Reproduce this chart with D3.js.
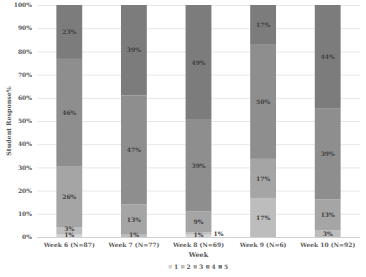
<!DOCTYPE html>
<html>
<head>
<meta charset="utf-8">
<script src="https://cdn.jsdelivr.net/npm/d3@7"></script>
<style>
  body { margin: 0; background: #fff; }
  svg text { font-family: "DejaVu Serif", "Liberation Serif", serif; font-weight: bold; }
</style>
</head>
<body>
<div id="chart"></div>
<script>
const weeks = ["Week 6 (N=87)", "Week 7 (N=77)", "Week 8 (N=69)", "Week 9 (N=6)", "Week 10 (N=92)"];
const keys = ["1", "2", "3", "4", "5"];
const resp1 = [1, 0, 1, 0, 0];
const resp2 = [3, 1, 1, 17, 3];
const resp3 = [26, 13, 9, 17, 13];
const resp4 = [46, 47, 39, 50, 39];
const resp5 = [23, 39, 49, 17, 44];
const yTicks = [0, 10, 20, 30, 40, 50, 60, 70, 80, 90, 100];
const colors = ["#d4d4d4", "#bdbdbd", "#a5a5a5", "#8e8e8e", "#7c7c7c"];

const rows = weeks.map((w, i) => ({
  week: w, "1": resp1[i], "2": resp2[i], "3": resp3[i], "4": resp4[i], "5": resp5[i]
}));

const width = 366, height = 277;
const margin = { top: 5, right: 6, bottom: 40, left: 37 };

const svg = d3.select("#chart").append("svg")
  .attr("width", width)
  .attr("height", height);

const x = d3.scaleBand()
  .domain(weeks)
  .range([margin.left, width - margin.right])
  .paddingInner(0.6)
  .paddingOuter(0.3);

// 100% stacked: values are normalised per bar
const y = d3.scaleLinear()
  .domain([0, 1])
  .range([height - margin.bottom, margin.top]);

// gridlines
svg.append("g")
  .selectAll("line")
  .data(yTicks)
  .enter()
  .append("line")
  .attr("x1", margin.left)
  .attr("x2", width - margin.right)
  .attr("y1", d => y(d / 100) + 0.5)
  .attr("y2", d => y(d / 100) + 0.5)
  .attr("stroke", d => d === 0 ? "#d0d0d0" : "#e8e8e8")
  .attr("stroke-width", 1);

// y tick labels
svg.append("g")
  .selectAll("text")
  .data(yTicks)
  .enter()
  .append("text")
  .attr("x", margin.left - 5)
  .attr("y", d => y(d / 100))
  .attr("dy", "0.35em")
  .attr("text-anchor", "end")
  .attr("font-size", 6)
  .attr("fill", "#595959")
  .text(d => d + "%");

const series = d3.stack().keys(keys).offset(d3.stackOffsetExpand)(rows);

const layers = svg.append("g")
  .selectAll("g")
  .data(series)
  .enter()
  .append("g")
  .attr("fill", (d, i) => colors[i]);

layers.selectAll("rect")
  .data(d => d)
  .enter()
  .append("rect")
  .attr("x", d => x(d.data.week))
  .attr("width", x.bandwidth())
  .attr("y", d => y(d[1]))
  .attr("height", d => y(d[0]) - y(d[1]));

// value labels
const labels = [];
series.forEach((s, si) => {
  s.forEach((d, wi) => {
    const v = d.data[s.key];
    if (v <= 0) return;
    const prevV = si > 0 ? rows[wi][keys[si - 1]] : 0;
    const shiftRight = v < 2 && prevV > 0 && prevV < 2;
    const low = d[0] === 0 && v < 2;
    let py = low ? y(0) - 2.5 : y((d[0] + d[1]) / 2);
    if (!low && !shiftRight && prevV > 0 && prevV < 2 && d[0] < 0.02) py = Math.min(py, y(0) - 8);
    if (shiftRight) py = y(0) - 3.5;
    labels.push({ week: d.data.week, v, py, shiftRight });
  });
});

svg.append("g")
  .selectAll("text")
  .data(labels)
  .enter()
  .append("text")
  .attr("x", d => d.shiftRight ? x(d.week) + x.bandwidth() + 7 : x(d.week) + x.bandwidth() / 2)
  .attr("y", d => d.py)
  .attr("dy", "0.35em")
  .attr("text-anchor", "middle")
  .attr("font-size", 6)
  .attr("fill", "#404040")
  .text(d => d.v + "%");

// x tick labels
svg.append("g")
  .selectAll("text")
  .data(weeks)
  .enter()
  .append("text")
  .attr("x", d => x(d) + x.bandwidth() / 2)
  .attr("y", y(0) + 10)
  .attr("text-anchor", "middle")
  .attr("font-size", 6)
  .attr("fill", "#595959")
  .text(d => d);

// axis titles
svg.append("text")
  .attr("x", (margin.left + width - margin.right) / 2)
  .attr("y", y(0) + 19.5)
  .attr("text-anchor", "middle")
  .attr("font-size", 6.5)
  .attr("fill", "#595959")
  .text("Week");

svg.append("text")
  .attr("transform", `translate(11, ${(y(0) + y(1)) / 2}) rotate(-90)`)
  .attr("text-anchor", "middle")
  .attr("font-size", 6.3)
  .attr("fill", "#595959")
  .text("Student Response%");

// legend
const legend = svg.append("g")
  .attr("transform", `translate(${(margin.left + width - margin.right) / 2 - 30}, ${height - 8})`);

const items = legend.selectAll("g")
  .data(keys)
  .enter()
  .append("g")
  .attr("transform", (d, i) => `translate(${i * 12.5}, 0)`);

items.append("rect")
  .attr("x", 0)
  .attr("y", -4)
  .attr("width", 3.5)
  .attr("height", 3.5)
  .attr("fill", (d, i) => colors[i]);

items.append("text")
  .attr("x", 5.5)
  .attr("y", 0)
  .attr("font-size", 6)
  .attr("fill", "#595959")
  .text(d => d);
</script>
</body>
</html>
